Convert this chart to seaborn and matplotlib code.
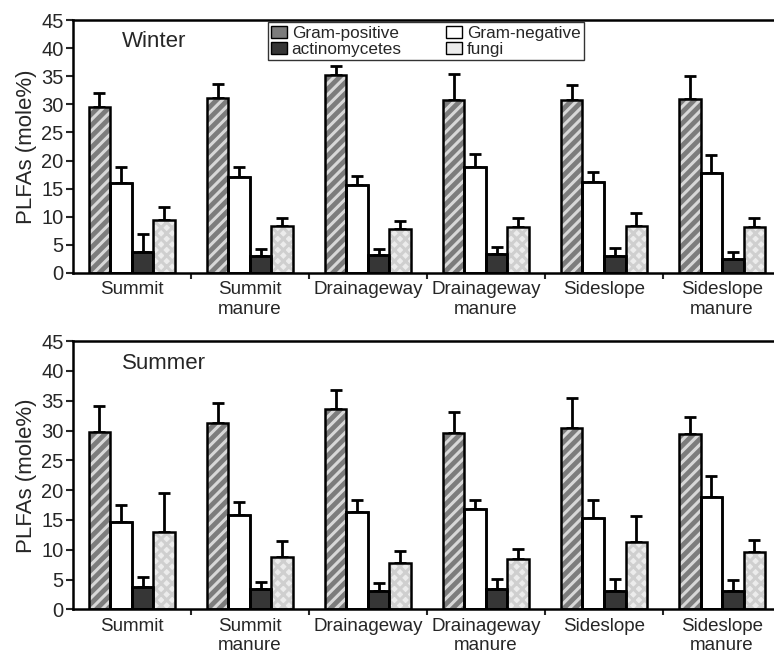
import numpy as np
import pandas as pd
import matplotlib
matplotlib.use("Agg")
import matplotlib.pyplot as plt
import matplotlib.patches as mpatches
import seaborn as sns

sites = ["Summit", "Summit\nmanure", "Drainageway", "Drainageway\nmanure",
         "Sideslope", "Sideslope\nmanure"]
groups = ["Gram-positive", "Gram-negative", "actinomycetes", "fungi"]

# Winter means and standard deviations (mole%)
winter_gp = [29.6, 31.2, 35.2, 30.8, 30.8, 31.0]
winter_gn = [16.0, 17.1, 15.6, 18.8, 16.1, 17.8]
winter_act = [3.8, 3.0, 3.1, 3.3, 3.0, 2.5]
winter_fun = [9.5, 8.4, 7.8, 8.1, 8.4, 8.1]
winter_gp_sd = [2.4, 2.4, 1.7, 4.6, 2.6, 4.0]
winter_gn_sd = [2.9, 1.7, 1.6, 2.4, 1.8, 3.1]
winter_act_sd = [3.1, 1.3, 1.2, 1.3, 1.4, 1.2]
winter_fun_sd = [2.3, 1.4, 1.4, 1.7, 2.2, 1.7]

# Summer means and standard deviations (mole%)
summer_gp = [29.8, 31.3, 33.6, 29.6, 30.4, 29.4]
summer_gn = [14.6, 15.8, 16.4, 16.9, 15.4, 18.8]
summer_act = [3.8, 3.5, 3.1, 3.5, 3.1, 3.1]
summer_fun = [13.0, 8.8, 7.8, 8.5, 11.3, 9.7]
summer_gp_sd = [4.3, 3.3, 3.2, 3.5, 5.0, 2.9]
summer_gn_sd = [2.9, 2.2, 1.9, 1.4, 2.9, 3.5]
summer_act_sd = [1.6, 1.1, 1.3, 1.6, 2.0, 1.8]
summer_fun_sd = [6.6, 2.7, 2.0, 1.7, 4.4, 2.0]

yticks = [0, 5, 10, 15, 20, 25, 30, 35, 40, 45]

sns.set_style("ticks")
plt.rcParams["font.family"] = ["Liberation Sans", "DejaVu Sans"]
plt.rcParams["hatch.linewidth"] = 2.2

styles = {
    "Gram-positive": dict(face="#7c7c7c", hatch="///", hcol="#d8d8d8"),
    "Gram-negative": dict(face="#ffffff", hatch=None, hcol=None),
    "actinomycetes": dict(face="#363636", hatch=None, hcol=None),
    "fungi": dict(face="#ececec", hatch="xxx", hcol="#cfcfcf"),
}


def long_table(means, sds):
    rows = []
    for g, m, s in zip(groups, means, sds):
        for site, v, e in zip(sites, m, s):
            rows.append(dict(site=site, group=g, value=v, sd=e))
    return pd.DataFrame(rows)


def draw_panel(ax, df, season):
    sns.barplot(data=df, x="site", y="value", hue="group", order=sites,
                hue_order=groups, errorbar=None, width=0.73, gap=0,
                palette=[styles[g]["face"] for g in groups], saturation=1,
                ax=ax, legend=False, zorder=2)
    for g, cont in zip(groups, ax.containers):
        st = styles[g]
        sub = df[df.group == g].set_index("site").loc[sites]
        for bar, v, e in zip(cont.patches, sub["value"], sub["sd"]):
            bar.set_facecolor(st["face"])
            if st["hatch"]:
                bar.set_hatch(st["hatch"])
                bar.set_edgecolor(st["hcol"])
                bar.set_linewidth(0)
            else:
                bar.set_edgecolor("black")
                bar.set_linewidth(1.8)
            x0, w = bar.get_x(), bar.get_width()
            # black outline drawn over the hatched fill
            ax.add_patch(mpatches.Rectangle((x0, 0), w, v, fill=False,
                                            edgecolor="black", linewidth=1.8,
                                            zorder=3))
            ax.errorbar(x0 + w / 2, v, yerr=[[0], [e]], fmt="none",
                        ecolor="black", elinewidth=2.0, capsize=4,
                        capthick=2.0, zorder=1)
    ax.set_xlim(-0.5, 5.44)
    ax.set_ylim(0, 45)
    ax.set_yticks(yticks)
    ax.set_xlabel("")
    ax.set_ylabel("PLFAs (mole%)", fontsize=16, labelpad=3)
    ax.tick_params(axis="y", labelsize=14.5, direction="out", length=5,
                   width=1.5, pad=1.5)
    ax.tick_params(axis="x", which="major", length=0, labelsize=13.5, pad=6)
    ax.set_xticks(np.arange(0.5, 5.5, 1.0), minor=True)
    ax.tick_params(axis="x", which="minor", length=4, width=1.5,
                   direction="out")
    for side in ["left", "bottom", "top"]:
        ax.spines[side].set_visible(True)
        ax.spines[side].set_linewidth(1.8)
        ax.spines[side].set_color("black")
    ax.spines["right"].set_visible(False)
    ax.text(0.07, 0.915, season, transform=ax.transAxes, fontsize=16,
            ha="left", va="center")


fig = plt.figure(figsize=(7.74, 6.56), dpi=100)
ax1 = fig.add_axes([0.094, 0.584, 0.906, 0.3855])
ax2 = fig.add_axes([0.094, 0.071, 0.906, 0.409])

w_df = long_table([winter_gp, winter_gn, winter_act, winter_fun],
                  [winter_gp_sd, winter_gn_sd, winter_act_sd, winter_fun_sd])
s_df = long_table([summer_gp, summer_gn, summer_act, summer_fun],
                  [summer_gp_sd, summer_gn_sd, summer_act_sd, summer_fun_sd])

draw_panel(ax1, w_df, "Winter")
draw_panel(ax2, s_df, "Summer")

handles = {}
for g in groups:
    st = styles[g]
    handles[g] = mpatches.Patch(facecolor=st["face"], edgecolor="black",
                                linewidth=1.0, label=g)
order = ["Gram-positive", "actinomycetes", "Gram-negative", "fungi"]
leg = fig.legend([handles[g] for g in order], order, ncol=2,
                 loc="upper left", bbox_to_anchor=(0.346, 0.966),
                 frameon=True, fancybox=False, fontsize=12.3,
                 handlelength=0.9, handleheight=0.75, handletextpad=0.3,
                 columnspacing=2.6, borderpad=0.2, labelspacing=0.05,
                 borderaxespad=0)
leg.get_frame().set_edgecolor("black")
leg.get_frame().set_linewidth(1.0)

fig.savefig("out.png", dpi=100)
